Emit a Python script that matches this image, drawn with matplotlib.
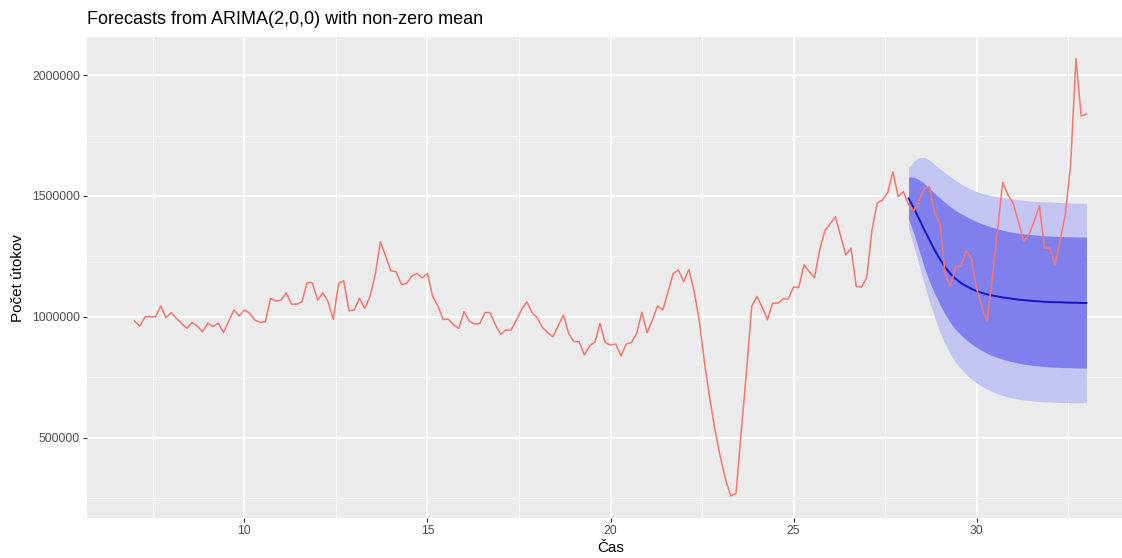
import numpy as np
import matplotlib
matplotlib.use("Agg")
import matplotlib.pyplot as plt
from matplotlib.ticker import MultipleLocator

plt.rcParams['font.family'] = ['Liberation Sans', 'DejaVu Sans']

# ---- data (values in thousands of attacks) ----
ts_start = 7
ts_freq = 7
attacks_k = [
    982, 961, 1000, 1000, 1000, 1044, 996, 1017, 993, 972,
    952, 977, 961, 938, 974, 959, 974, 935, 982, 1028,
    1003, 1028, 1014, 986, 977, 979, 1076, 1065, 1069, 1099,
    1052, 1052, 1062, 1142, 1140, 1069, 1099, 1062, 989, 1138,
    1149, 1025, 1028, 1076, 1034, 1083, 1172, 1310, 1251, 1190,
    1187, 1134, 1138, 1168, 1179, 1161, 1179, 1083, 1044, 989,
    990, 966, 952,
    1021, 982, 970, 972, 1017, 1017, 966, 927, 945, 945,
    986, 1030, 1062, 1017, 996, 955, 934, 917, 963, 1007,
    931, 897, 897, 842, 880, 894, 972, 893, 883, 887,
    838, 887, 893, 931, 1018, 934, 986, 1045, 1028, 1103,
    1179, 1193, 1145, 1196,
    1105, 981, 805, 660, 530, 420, 327, 258, 269, 526,
    769, 1043, 1084, 1040, 988, 1056, 1056, 1074, 1074, 1123, 1121,
    1215, 1187, 1162, 1277, 1357, 1384, 1414, 1335, 1256, 1284,
    1125, 1123, 1162, 1359, 1472, 1483, 1514, 1600, 1497, 1518,
    1463, 1438, 1484, 1532, 1539, 1429, 1385, 1174, 1126, 1208,
    1208, 1274, 1243, 1119, 1043, 981, 1160, 1360, 1557, 1504,
    1470, 1394, 1312, 1340, 1394, 1460, 1284, 1284, 1215, 1318,
    1429, 1635, 2069, 1831, 1839,
]
train_len = 148  # forecast origin: index of first forecast step

fc_mean_k = [1490, 1450, 1405, 1360, 1318, 1275, 1238, 1205, 1178, 1157,
             1140, 1127, 1116, 1106, 1099, 1093, 1088, 1084, 1080, 1077,
             1074, 1071, 1069, 1067, 1065, 1064, 1062, 1061, 1060, 1060,
             1059, 1058, 1058, 1057, 1057]
hi80_k = [1578, 1578, 1568, 1552, 1532, 1511, 1491, 1472, 1455, 1440,
          1427, 1415, 1404, 1394, 1385, 1377, 1370, 1364, 1358, 1353,
          1349, 1346, 1343, 1341, 1339, 1337, 1335, 1334, 1333, 1332,
          1331, 1331, 1330, 1330, 1330]
lo80_k = [1405, 1345, 1275, 1205, 1145, 1095, 1050, 1010, 975, 947,
          925, 905, 888, 873, 860, 849, 839, 831, 824, 818,
          813, 808, 804, 801, 798, 796, 794, 792, 791, 790,
          789, 789, 788, 788, 788]
hi95_k = [1618, 1645, 1658, 1660, 1648, 1630, 1612, 1596, 1580, 1564,
          1550, 1538, 1527, 1518, 1511, 1506, 1501, 1497, 1493, 1490,
          1487, 1484, 1482, 1480, 1478, 1477, 1476, 1475, 1474, 1473,
          1472, 1471, 1471, 1470, 1470]
lo95_k = [1365, 1290, 1215, 1135, 1060, 995, 935, 885, 845, 812,
          785, 762, 742, 726, 712, 700, 690, 681, 674, 668,
          663, 659, 656, 653, 651, 649, 648, 647, 646, 645,
          645, 644, 644, 644, 644]

title = "Forecasts from ARIMA(2,0,0) with non-zero mean"
xlabel = "Čas"
ylabel = "Počet útokov"
x_ticks = [10, 15, 20, 25, 30]
y_ticks = [500000, 1000000, 1500000, 2000000]

# ---- derived ----
attacks = np.array(attacks_k) * 1000
t = ts_start + np.arange(len(attacks)) / ts_freq
tf = ts_start + (train_len + np.arange(len(fc_mean_k))) / ts_freq
fc_mean = np.array(fc_mean_k) * 1000
hi80 = np.array(hi80_k) * 1000
lo80 = np.array(lo80_k) * 1000
hi95 = np.array(hi95_k) * 1000
lo95 = np.array(lo95_k) * 1000

W, H = 1122, 558
fig = plt.figure(figsize=(W / 100, H / 100), dpi=100)
fig.patch.set_facecolor('white')
left_px, right_px, top_px, bot_px = 87, 1134, 37, 518
ax = fig.add_axes([left_px / W, 1 - bot_px / H, (right_px - left_px) / W, (bot_px - top_px) / H])
ax.set_facecolor('#EBEBEB')

ax.fill_between(tf, lo95, hi95, color='#C4C4F3', lw=0, zorder=2)
ax.fill_between(tf, lo80, hi80, color='#7F7FEE', lw=0, zorder=3)
ax.plot(tf, fc_mean, color='#1414C8', lw=1.4, zorder=4)
ax.plot(t, attacks, color='#F8766D', lw=1.1, zorder=5)

ax.set_xlim(5.7, 34.3)
ax.set_ylim(167000, 2158000)
ax.set_xticks(x_ticks)
ax.set_yticks(y_ticks)
ax.set_yticklabels([str(v) for v in y_ticks])
ax.xaxis.set_minor_locator(MultipleLocator(2.5))
ax.yaxis.set_minor_locator(MultipleLocator(250000))
ax.grid(which='major', color='white', lw=1.3, zorder=0)
ax.grid(which='minor', color='white', lw=0.6, zorder=0)
ax.set_axisbelow(True)
for s in ax.spines.values():
    s.set_visible(False)
ax.tick_params(which='major', length=3, width=0.8, color='#333333',
               labelsize=8.8, labelcolor='#4D4D4D', pad=2)
ax.tick_params(which='minor', length=0)

fig.text(left_px / W, 1 - 20 / H, title, fontsize=13, ha='left', va='center', color='black')
fig.text((left_px + right_px) / 2 / W, 1 - 548 / H, xlabel, fontsize=11, ha='center', va='center')
fig.text(18 / W, 1 - 278 / H, ylabel, fontsize=11, ha='center', va='center', rotation=90)

fig.savefig('out.png', dpi=100, facecolor='white')
